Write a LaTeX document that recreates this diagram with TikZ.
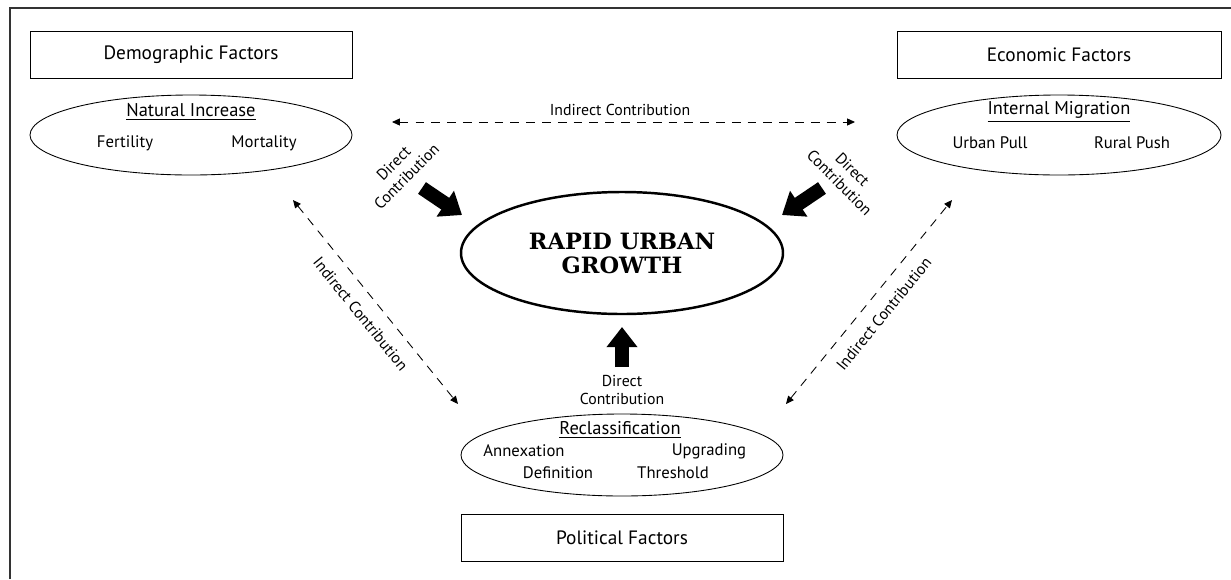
\documentclass[tikz,border=0pt]{standalone}
\usepackage{fontspec}
\setmainfont{PT Sans}
\newfontfamily\growthfont{DejaVu Serif}
\usetikzlibrary{positioning, shapes.geometric, arrows.meta}

\tikzset{
    factor/.style={draw, line width=0.5pt, minimum width=64.4mm, minimum height=9.4mm, font=\fontsize{11}{13}\selectfont},
    cause/.style={draw, ellipse, line width=0.5pt, minimum width=64.4mm, minimum height=16mm},
    causehead/.style={font=\fontsize{10.5}{12}\selectfont},
    causeitem/.style={font=\fontsize{9.5}{11}\selectfont},
    growth/.style={draw, ellipse, line width=1.4pt, minimum width=64.4mm, minimum height=24.4mm, align=center, font=\growthfont\bfseries\fontsize{12.8}{13.7}\selectfont},
    contrib/.style={font=\fontsize{9}{10.5}\selectfont, align=center},
    indirect/.style={line width=0.5pt, dash pattern=on 5pt off 4pt, {Triangle[length=4.5pt,width=4pt]}-{Triangle[length=4.5pt,width=4pt]}},
    direct/.style={line width=8pt, -{Triangle[length=11.5pt,width=17pt]}}
}

\begin{document}
\begin{tikzpicture}[x=0.2mm, y=-0.2mm]
    % Frame
    \useasboundingbox (0,0) rectangle (1231,579);
    \draw [line width=0.9pt, black!80] (10,579) -- (10,8) -- (1231,8);

    % Factor boxes
    \node[factor] (demo) at (191,54.5) {Demographic Factors};
    \node[factor, minimum width=64.8mm] (econ) at (1059,54.5) {Economic Factors};
    \node[factor] (poli) at (622,537.5) {Political Factors};

    % Natural increase
    \node[cause] (natural) at (191,135) {};
    \node[causehead] (natural-head) at (191,112) {\underline{Natural Increase}};
    \node[causeitem] (fertility) at (125,143) {Fertility};
    \node[causeitem] (mortality) at (264,143) {Mortality};

    % Internal migration
    \node[cause, minimum width=64.8mm] (migration) at (1059,135) {};
    \node[causehead] (migration-head) at (1059,112) {\underline{Internal Migration}};
    \node[causeitem] (pull) at (990,143) {Urban Pull};
    \node[causeitem] (push) at (1132,143) {Rural Push};

    % Reclassification
    \node[cause, minimum height=16.4mm] (reclass) at (622,455) {};
    \node[causehead] (reclass-head) at (620,430) {\underline{Reclassification}};
    \node[causeitem] (annexation) at (524,451) {Annexation};
    \node[causeitem] (upgrading) at (709,451) {Upgrading};
    \node[causeitem] (definition) at (558,473) {Definition};
    \node[causeitem] (threshold) at (673,473) {Threshold};

    % Rapid urban growth
    \node[growth] (growth) at (622,253) {RAPID URBAN\\GROWTH};

    % Arrow ends
    \coordinate (top-l) at (392,122);
    \coordinate (top-r) at (855,122);
    \coordinate (diag-l1) at (293,200);
    \coordinate (diag-l2) at (458,404);
    \coordinate (diag-r1) at (786,404);
    \coordinate (diag-r2) at (952,200);
    \coordinate (direct-l1) at (422,188);
    \coordinate (direct-l2) at (462,215);
    \coordinate (direct-r1) at (822,188);
    \coordinate (direct-r2) at (782,215);
    \coordinate (direct-b1) at (622,367);
    \coordinate (direct-b2) at (622,327);

    % Indirect contributions
    \draw [indirect] (top-l) -- (top-r);
    \node[contrib] (indirect-top) at (620,110) {Indirect Contribution};
    \draw [indirect] (diag-l1) -- node[contrib, sloped, below=4pt] (indirect-l) {Indirect Contribution} (diag-l2);
    \draw [indirect] (diag-r1) -- node[contrib, sloped, below=4pt] (indirect-r) {Indirect Contribution} (diag-r2);

    % Direct contributions
    \draw [direct] (direct-l1) -- (direct-l2);
    \draw [direct] (direct-r1) -- (direct-r2);
    \draw [direct] (direct-b1) -- (direct-b2);
    \node[contrib, rotate=45] (direct-l) at (400,170) {Direct\\Contribution};
    \node[contrib, rotate=-45] (direct-r) at (846,176) {Direct\\Contribution};
    \node[contrib] (direct-b) at (622,390) {Direct\\Contribution};
\end{tikzpicture}
\end{document}
